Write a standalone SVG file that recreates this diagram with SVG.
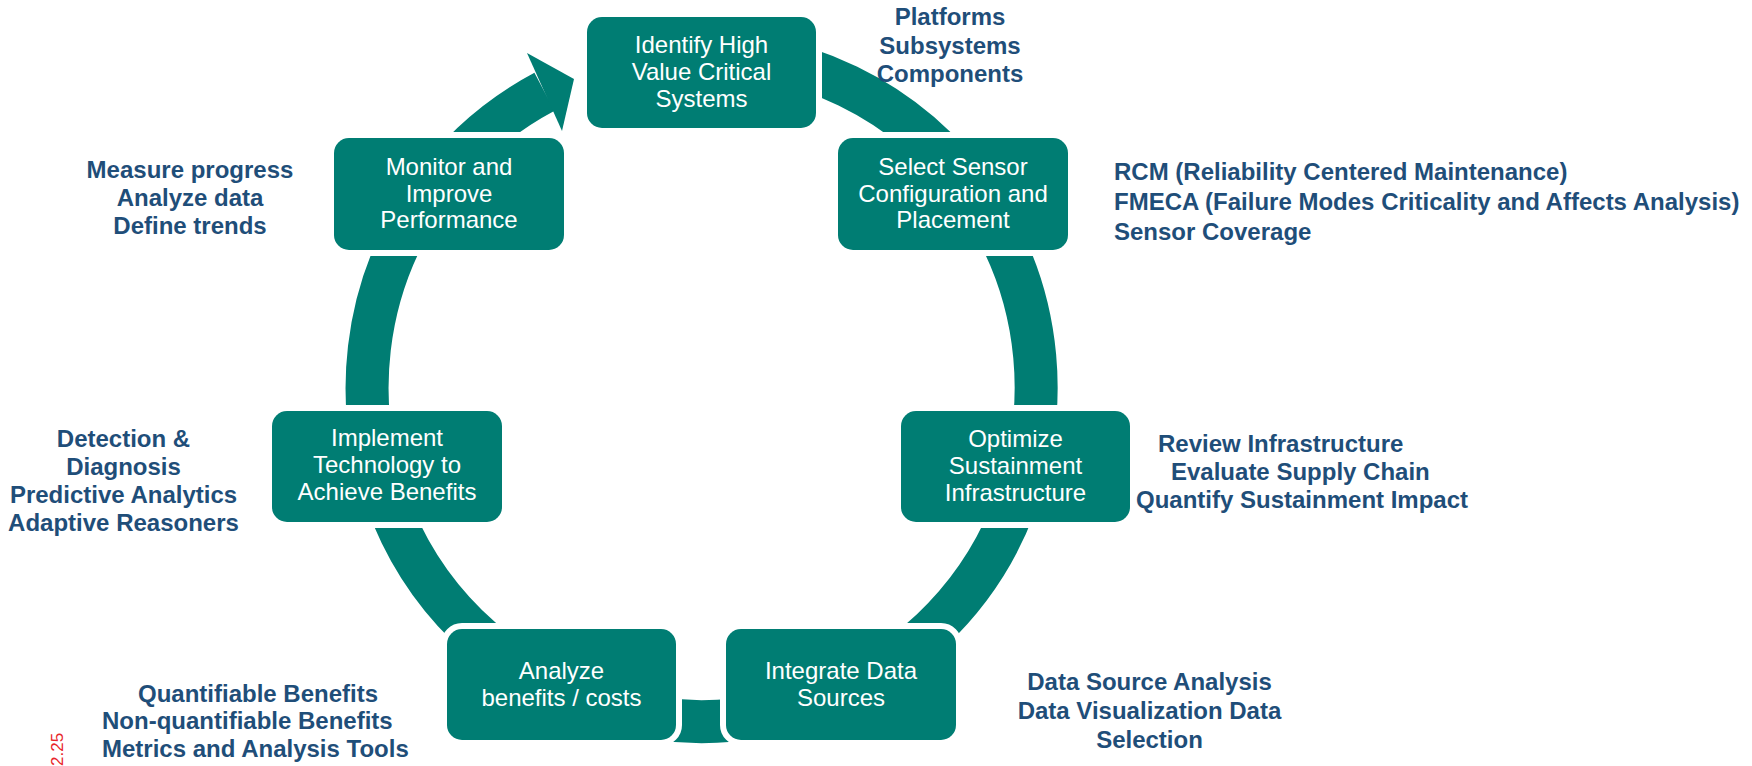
<svg xmlns="http://www.w3.org/2000/svg" width="1752" height="766" viewBox="0 0 1752 766">
<style>
.ring{fill:none;stroke:#007D73;stroke-width:43}
.head{fill:#007D73}
.box{fill:#007D73;stroke:#fff;stroke-width:12;paint-order:stroke}
.nt{font-family:"Liberation Sans",Arial,sans-serif;font-size:24px;fill:#fff;text-anchor:middle}
.an{font-family:"Liberation Sans",Arial,sans-serif;font-size:24px;font-weight:bold;fill:#1F4E79}
.mid{text-anchor:middle}
.tag{font-family:"Liberation Sans",Arial,sans-serif;font-size:17px;fill:#E8262A}
</style>
<rect width="1752" height="766" fill="#fff"/>
<g id="connectors">
<path class="ring" d="M701.5 52.5 A334.5 334.5 0 1 1 544.5 91.7"/>
<polygon class="head" points="574,79 527,53 562,131"/>
</g>
<g id="identify"><rect class="box" x="587" y="17" width="229" height="111" rx="15"/>
<text class="nt" x="701.5" y="53">Identify High</text><text class="nt" x="701.5" y="80">Value Critical</text><text class="nt" x="701.5" y="107">Systems</text></g>
<g id="select"><rect class="box" x="838" y="138" width="230" height="112" rx="15"/>
<text class="nt" x="953" y="174.5">Select Sensor</text><text class="nt" x="953" y="201.5">Configuration and</text><text class="nt" x="953" y="228">Placement</text></g>
<g id="optimize"><rect class="box" x="901" y="411" width="229" height="111" rx="15"/>
<text class="nt" x="1015.5" y="447">Optimize</text><text class="nt" x="1015.5" y="474">Sustainment</text><text class="nt" x="1015.5" y="501">Infrastructure</text></g>
<g id="integrate"><rect class="box" x="726" y="629" width="230" height="111" rx="15"/>
<text class="nt" x="841" y="679">Integrate Data</text><text class="nt" x="841" y="706">Sources</text></g>
<g id="analyze"><rect class="box" x="447" y="629" width="229" height="111" rx="15"/>
<text class="nt" x="561.5" y="679">Analyze</text><text class="nt" x="561.5" y="706">benefits / costs</text></g>
<g id="implement"><rect class="box" x="272" y="411" width="230" height="111" rx="15"/>
<text class="nt" x="387" y="446">Implement</text><text class="nt" x="387" y="473">Technology to</text><text class="nt" x="387" y="500">Achieve Benefits</text></g>
<g id="monitor"><rect class="box" x="334" y="138" width="230" height="112" rx="15"/>
<text class="nt" x="449" y="174.5">Monitor and</text><text class="nt" x="449" y="201.5">Improve</text><text class="nt" x="449" y="228">Performance</text></g>
<g id="notes">
<text class="an mid" x="950" y="25">Platforms</text>
<text class="an mid" x="950" y="53.5">Subsystems</text>
<text class="an mid" x="950" y="82">Components</text>
<text class="an" x="1114" y="180">RCM (Reliability Centered Maintenance)</text>
<text class="an" x="1114" y="210">FMECA (Failure Modes Criticality and Affects Analysis)</text>
<text class="an" x="1114" y="240">Sensor Coverage</text>
<text class="an mid" x="190" y="178">Measure progress</text>
<text class="an mid" x="190" y="206">Analyze data</text>
<text class="an mid" x="190" y="234">Define trends</text>
<text class="an mid" x="123.5" y="447">Detection &amp;</text>
<text class="an mid" x="123.5" y="475">Diagnosis</text>
<text class="an mid" x="123.5" y="503">Predictive Analytics</text>
<text class="an mid" x="123.5" y="531">Adaptive Reasoners</text>
<text class="an" x="1158" y="452">Review Infrastructure</text>
<text class="an" x="1171" y="480">Evaluate Supply Chain</text>
<text class="an" x="1136" y="508">Quantify Sustainment Impact</text>
<text class="an mid" x="1149.5" y="690">Data Source Analysis</text>
<text class="an mid" x="1149.5" y="719">Data Visualization Data</text>
<text class="an mid" x="1149.5" y="748">Selection</text>
<text class="an" x="138" y="701.5">Quantifiable Benefits</text>
<text class="an" x="102" y="729">Non-quantifiable Benefits</text>
<text class="an" x="102" y="757">Metrics and Analysis Tools</text>
<text class="tag" transform="translate(63,766) rotate(-90)">2.25</text>
</g>
</svg>
